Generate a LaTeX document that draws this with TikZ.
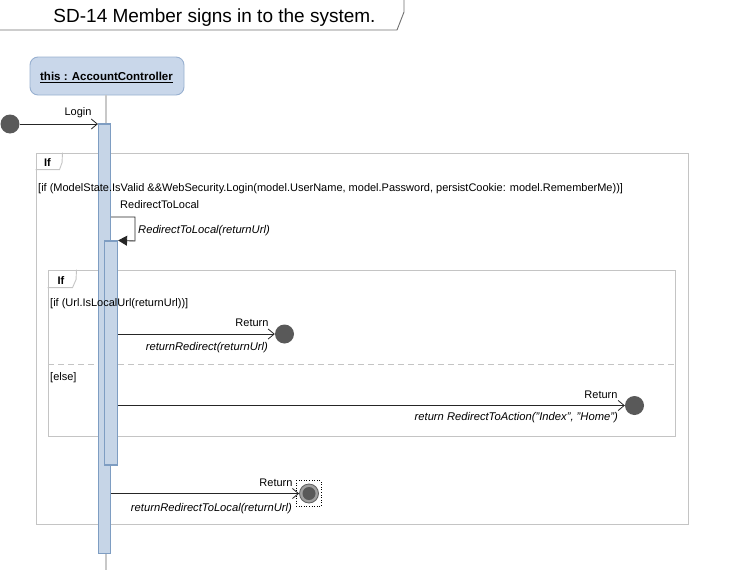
\documentclass[tikz,border=0pt]{standalone}
\usepackage{fontspec}
\setmainfont{Liberation Sans}
\usetikzlibrary{arrows.meta,fit}
\definecolor{barfill}{HTML}{C6D5E7}
\definecolor{barline}{HTML}{7E9DC2}
\definecolor{headfill}{HTML}{C9D7EA}
\definecolor{headline}{HTML}{98B0D0}
\definecolor{framecol}{HTML}{C4C4C4}
\definecolor{dotfill}{HTML}{595959}
\definecolor{ringfill}{HTML}{A0A0A0}
\definecolor{ringline}{HTML}{606060}
\definecolor{lifecol}{HTML}{C8C8C8}
\definecolor{titleline}{HTML}{707070}
\begin{document}
\begin{tikzpicture}[x=1pt,y=-1pt,
  txt/.style={font=\fontsize{11}{13}\selectfont, inner sep=0pt, yshift=-1.5pt},
  itxt/.style={font=\fontsize{11.2}{13}\selectfont\itshape, inner sep=0pt, yshift=-1.5pt},
  bar/.style={draw=barline, fill=barfill, line width=1.2pt, inner sep=0pt},
  frame/.style={draw=framecol, line width=0.9pt, inner sep=0pt},
  dot/.style={circle, fill=dotfill, minimum size=19pt, inner sep=0pt},
  msg/.style={line width=0.9pt, draw=black!85, -{Straight Barb[length=6pt,width=10pt,line width=0.8pt]}},
  selfmsg/.style={line width=0.9pt, draw=black!85, -{Triangle[length=9pt,width=10pt]}}
]
\useasboundingbox (0,0) rectangle (739,570);
% title tab
\draw[titleline, line width=0.9pt] (0,30) -- (397,30) -- (404,12) -- (404,0);
\node[font=\fontsize{19}{22}\selectfont, inner sep=0pt] (title) at (214.5,17.5) {SD-14 Member signs in to the system.};
% lifeline
\node[draw=headline, fill=headfill, rounded corners=8pt, minimum width=154pt, minimum height=38pt, inner sep=0pt, line width=0.9pt] (head) at (107,76) {};
\node[font=\fontsize{11.5}{13}\selectfont\bfseries, inner sep=0pt] (headlabel) at (106.5,77.5) {\underline{this : AccountController}};
\coordinate (lifeend) at (106,570);
\draw[lifecol, line width=1.4pt] (head.south -| lifeend) -- (lifeend);
% frames
\node[frame, fit={(36,153) (688,524)}] (outer) {};
\draw[framecol, line width=0.9pt] (outer.north west) ++(0,17) -- ++(24,0) -- ++(2.5,-7) -- (outer.north west -| 62.5,0);
\node[txt, font=\fontsize{11}{13}\selectfont\bfseries] (ifA) at (47.5,161.5) {If};
\node[frame, fit={(48,270) (675,436)}] (inner) {};
\draw[framecol, line width=0.9pt] (inner.north west) ++(0,18) -- ++(25,0) -- ++(3.5,-8) -- (inner.north west -| 76.5,0);
\node[txt, font=\fontsize{11}{13}\selectfont\bfseries] (ifB) at (61,279.5) {If};
\coordinate (sepL) at (48,364);
\coordinate (sepR) at (675,364);
\draw[framecol, line width=0.9pt, dash pattern=on 6pt off 4pt] (sepL) -- (sepR);
% activation bars
\node[bar, fit={(98.5,124) (110.5,553.5)}] (bar1) {};
\node[bar, fit={(104.5,241) (117.5,465)}] (bar2) {};
% guards (printed over the bars)
\node[txt, anchor=west] (guardA) at (38,187) {[if (ModelState.IsValid \&\&WebSecurity.Login(model.UserName, model.Password, persistCookie: model.RememberMe))]};
\node[txt, anchor=west] (guardB) at (50,302) {[if (Url.IsLocalUrl(returnUrl))]};
\node[txt, anchor=west] (elseB) at (50,376.5) {[else]};
% start and ends
\node[dot] (start) at (10,124) {};
\node[dot] (end1) at (284.5,334) {};
\node[dot] (end2) at (634.5,405.5) {};
\node[circle, fill=ringfill, draw=ringline, line width=0.8pt, minimum size=19pt, inner sep=0pt] (end3) at (309,493.5) {};
\node[circle, fill=dotfill, minimum size=13pt, inner sep=0pt] (end3core) at (end3.center) {};
\node[draw=black, dotted, line width=0.6pt, fit={(296,480.5) (321,506.5)}, inner sep=0pt] (sel) {};
% messages
\draw[msg] (start) -- (bar1.west |- start);
\node[txt] (lLogin) at (78,111) {Login};
\coordinate (selfA) at (135,217);
\coordinate (selfB) at (135,241);
\draw[selfmsg] (bar1.east |- selfA) -- (selfA) -- (selfB) -- (bar2.north east);
\node[txt, anchor=west] (lSelf) at (120,203) {RedirectToLocal};
\node[itxt, anchor=west] (lSelfI) at (138,229) {RedirectToLocal(returnUrl)};
\draw[msg] (bar2.east |- end1) -- (end1);
\node[txt] (lRet1) at (252,321.5) {Return};
\node[itxt, anchor=east] (lRet1I) at (268,346.5) {returnRedirect(returnUrl)};
\draw[msg] (bar2.east |- end2) -- (end2);
\node[txt] (lRet2) at (601,393) {Return};
\node[itxt, anchor=east] (lRet2I) at (618,416.5) {return RedirectToAction("Index", "Home")};
\draw[msg] (bar1.east |- end3) -- (end3);
\node[txt] (lRet3) at (276,481.5) {Return};
\node[itxt, anchor=east] (lRet3I) at (292,507.5) {returnRedirectToLocal(returnUrl)};
\end{tikzpicture}
\end{document}
